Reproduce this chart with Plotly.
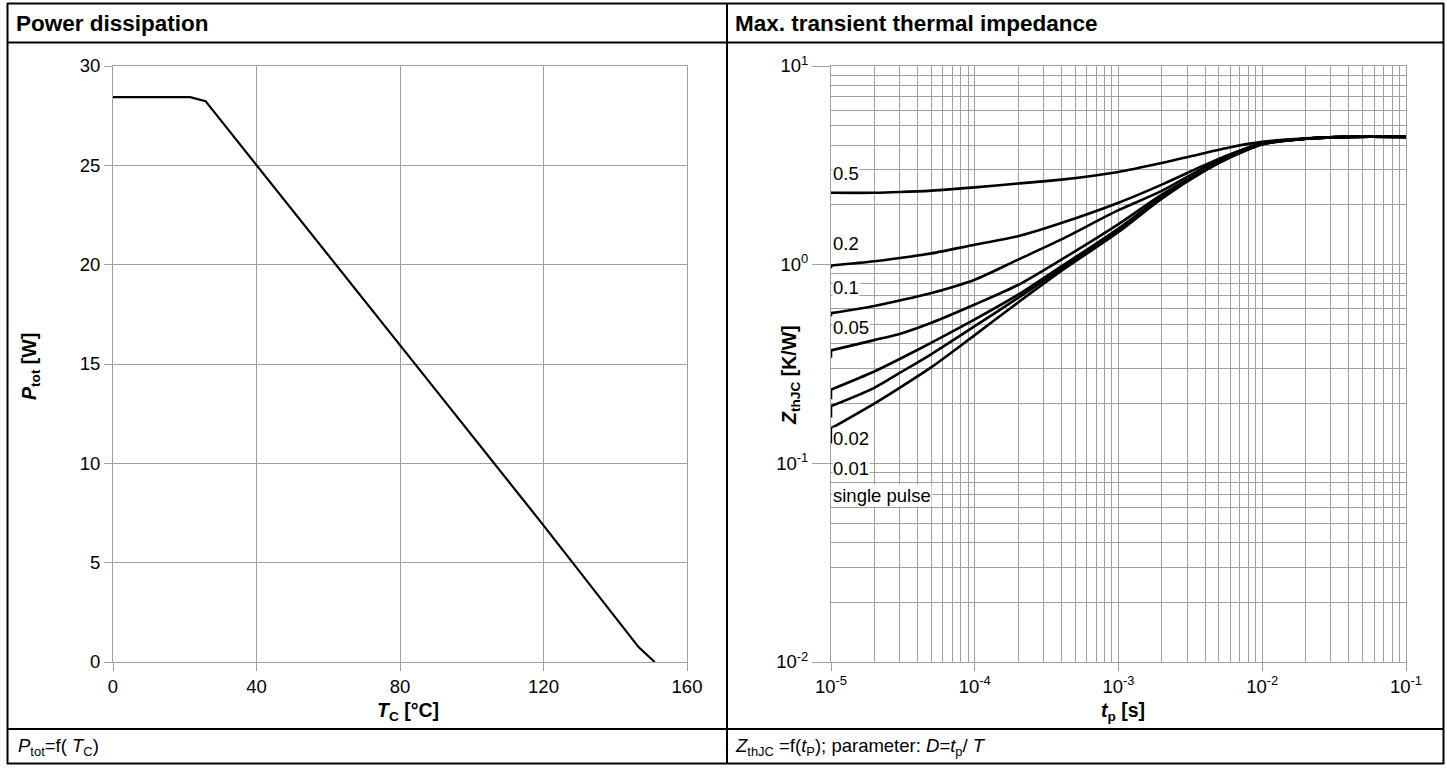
import plotly.graph_objects as go
import math

W, H = 1447, 769

# ---------------- data ----------------
# Left: power dissipation vs case temperature
tc_degC = [0, 21.5, 25.8, 40, 80, 120, 146.5, 151]
ptot_W = [28.43, 28.43, 28.23, 25.0, 15.95, 6.88, 0.75, 0.0]
left_xticks = [0, 40, 80, 120, 160]
left_yticks = [0, 5, 10, 15, 20, 25, 30]

# Right: transient thermal impedance vs pulse width
tp_s = [1e-5, 1e-5, 2e-5, 3e-5, 5e-5, 1e-4, 2e-4, 4e-4, 1e-3, 2e-3, 4e-3, 6e-3, 1e-2, 2e-2, 4e-2, 1e-1]
zth_D05 = [2.28, 2.30, 2.30, 2.32, 2.36, 2.45, 2.56, 2.68, 2.93, 3.25, 3.65, 3.90, 4.15, 4.32, 4.40, 4.40]
zth_D02 = [0.96, 0.99, 1.04, 1.08, 1.14, 1.26, 1.39, 1.62, 2.05, 2.53, 3.18, 3.60, 4.10, 4.30, 4.40, 4.40]
zth_D01 = [0.55, 0.57, 0.62, 0.66, 0.72, 0.84, 1.06, 1.34, 1.88, 2.35, 3.10, 3.55, 4.08, 4.30, 4.40, 4.40]
zth_D005 = [0.34, 0.37, 0.417, 0.448, 0.51, 0.63, 0.79, 1.06, 1.60, 2.25, 3.00, 3.50, 4.05, 4.30, 4.40, 4.40]
zth_D002 = [0.21, 0.235, 0.29, 0.335, 0.405, 0.53, 0.706, 0.98, 1.52, 2.20, 3.00, 3.50, 4.05, 4.30, 4.40, 4.40]
zth_D001 = [0.17, 0.194, 0.240, 0.285, 0.355, 0.49, 0.68, 0.955, 1.49, 2.18, 2.98, 3.48, 4.04, 4.30, 4.40, 4.40]
zth_single = [0.126, 0.150, 0.200, 0.240, 0.305, 0.442, 0.645, 0.93, 1.46, 2.15, 2.97, 3.47, 4.03, 4.30, 4.40, 4.40]

curve_labels = ["0.5", "0.2", "0.1", "0.05", "0.02", "0.01", "single pulse"]
curve_label_y = [2.87, 1.28, 0.766, 0.484, 0.133, 0.0937, 0.069]

right_xticks = [1e-5, 1e-4, 1e-3, 1e-2, 1e-1]
right_xticktext = ["10<sup>-5</sup>", "10<sup>-4</sup>", "10<sup>-3</sup>", "10<sup>-2</sup>", "10<sup>-1</sup>"]
right_yticks = [1e-2, 1e-1, 1, 10]
right_yticktext = ["10<sup>-2</sup>", "10<sup>-1</sup>", "10<sup>0</sup>", "10<sup>1</sup>"]

# ---------------- styling ----------------
FONT = "Liberation Sans, Arial, sans-serif"
GRID = "#a0a0a0"
TICKFONT = dict(family=FONT, size=18.5, color="black")


def px(x):
    return x / W


def py(y):
    return 1 - y / H


fig = go.Figure()

fig.add_trace(go.Scatter(x=tc_degC, y=ptot_W, mode="lines",
                         line=dict(color="black", width=2.2),
                         xaxis="x", yaxis="y", showlegend=False, hoverinfo="skip"))

for z in [zth_D05, zth_D02, zth_D01, zth_D005, zth_D002, zth_D001, zth_single]:
    # short vertical start segment
    fig.add_trace(go.Scatter(x=tp_s[:2], y=z[:2], mode="lines",
                             line=dict(color="black", width=2.6),
                             xaxis="x2", yaxis="y2", showlegend=False, hoverinfo="skip"))
    # smooth main curve
    fig.add_trace(go.Scatter(x=tp_s[1:], y=z[1:], mode="lines",
                             line=dict(color="black", width=2.6, shape="spline", smoothing=0.8),
                             xaxis="x2", yaxis="y2", showlegend=False, hoverinfo="skip"))

minor_x = [m * 10 ** e for e in range(-5, -1) for m in range(2, 10)]
minor_y = [m * 10 ** e for e in range(-2, 1) for m in range(2, 10)]

dom_y = [py(662), py(66)]
common = dict(showgrid=True, gridcolor=GRID, gridwidth=1, zeroline=False,
              showline=True, linecolor=GRID, linewidth=1, mirror=True,
              ticks="outside", tickcolor=GRID, tickfont=TICKFONT,
              fixedrange=True, automargin=False)

fig.update_layout(
    template="none",
    width=W, height=H,
    autosize=False,
    margin=dict(l=0, r=0, t=0, b=0, pad=0, autoexpand=False),
    paper_bgcolor="white", plot_bgcolor="white",
    font=dict(family=FONT, color="black"),
    showlegend=False,
    xaxis=dict(domain=[px(113), px(687)], range=[0, 160], tickvals=left_xticks,
               ticklen=8, anchor="y", **common),
    yaxis=dict(domain=dom_y, range=[0, 30], tickvals=left_yticks, anchor="x",
               ticklen=8, **common),
    xaxis2=dict(domain=[px(831), px(1406)], type="log", range=[-5, -1], anchor="y2",
                tickmode="array", tickvals=right_xticks, ticktext=right_xticktext,
                ticklen=8,
                minor=dict(tickmode="array", tickvals=minor_x, showgrid=True,
                           gridcolor=GRID, gridwidth=1, ticks=""),
                **common),
    yaxis2=dict(domain=dom_y, type="log", range=[-2, 1], anchor="x2",
                tickmode="array", tickvals=right_yticks, ticktext=right_yticktext,
                ticklen=18,
                minor=dict(tickmode="array", tickvals=minor_y, showgrid=True,
                           gridcolor=GRID, gridwidth=1, ticks=""),
                **common),
)

# ---------------- table frame ----------------
LW = 2
shapes = []


def hline(y, x0, x1):
    shapes.append(dict(type="line", xref="paper", yref="paper",
                       x0=px(x0), x1=px(x1), y0=py(y), y1=py(y),
                       line=dict(color="black", width=LW)))


def vline(x, y0, y1):
    shapes.append(dict(type="line", xref="paper", yref="paper",
                       x0=px(x), x1=px(x), y0=py(y0), y1=py(y1),
                       line=dict(color="black", width=LW)))


hline(3.5, 7, 1444)
hline(42.5, 7, 1444)
hline(729, 7, 1444)
hline(763.5, 7, 1444)
vline(7.5, 3, 764)
vline(1443.5, 3, 764)
vline(727, 3, 764)
fig.update_layout(shapes=shapes)

# ---------------- texts ----------------
ann = []


def text(x, y, t, size=18.5, xanchor="left", angle=0):
    ann.append(dict(xref="paper", yref="paper", x=px(x), y=py(y), text=t,
                    showarrow=False, xanchor=xanchor, yanchor="middle",
                    textangle=angle, font=dict(family=FONT, size=size, color="black")))


text(14, 23, "<b>Power dissipation</b>", size=22.5)
text(733, 23, "<b>Max. transient thermal impedance</b>", size=22.5)
text(16, 747, "<i>P</i><sub>tot</sub>=f( <i>T</i><sub>C</sub>)")
text(733, 747, "<i>Z</i><sub>thJC</sub> =f(<i>t</i><sub>P</sub>); parameter: <i>D=t</i><sub>p</sub>/ <i>T</i>")
text(408, 711, "<b><i>T</i><sub>C</sub> [°C]</b>", size=19.5, xanchor="center")
text(1123, 711, "<b><i>t</i><sub>p</sub> [s]</b>", size=19.5, xanchor="center")
text(30, 367, "<b><i>P</i><sub>tot</sub> [W]</b>", size=19.5, xanchor="center", angle=-90)
text(790, 375, "<b><i>Z</i><sub>thJC</sub> [K/W]</b>", size=19.5, xanchor="center", angle=-90)

for lab, ly in zip(curve_labels, curve_label_y):
    ann.append(dict(xref="x2", yref="y2", x=math.log10(tp_s[0]), y=math.log10(ly),
                    text=lab, showarrow=False, xanchor="left", yanchor="middle",
                    xshift=1, bgcolor="white", borderpad=0,
                    font=dict(family=FONT, size=18.5, color="black")))

fig.update_layout(annotations=ann)

fig.write_html("out.html",
               config={"displayModeBar": False, "staticPlot": True},
               post_script="document.body.style.margin='0';document.body.style.overflow='hidden';")
